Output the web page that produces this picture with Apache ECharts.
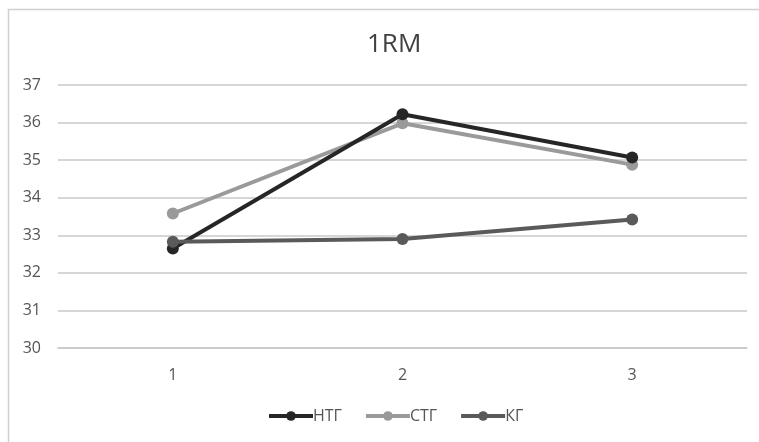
<!DOCTYPE html>
<html>
<head>
<meta charset="utf-8">
<script src="https://cdn.jsdelivr.net/npm/echarts@6/dist/echarts.min.js"></script>
<style>
html,body{margin:0;padding:0;background:#fff;}
#chart{width:759px;height:442px;}
</style>
</head>
<body>
<div id="chart"></div>
<script>
const categories = ['1', '2', '3'];
const seriesNames = ['НТГ', 'СТГ', 'КГ'];
const ntg = [32.65, 36.22, 35.07];
const stg = [33.58, 35.98, 34.88];
const kg = [32.83, 32.9, 33.42];
const yTicks = { min: 30, max: 37, interval: 1 };

const colors = ['#262626', '#9a9a9a', '#5a5a5a'];
const font = 'Open Sans, Liberation Sans, sans-serif';
const chart = echarts.init(document.getElementById('chart'));
const mk = (name, data, color, z) => ({
  name, type: 'line', data, z,
  symbol: 'circle', symbolSize: 12,
  lineStyle: { width: 4, color },
  itemStyle: { color },
  emphasis: { disabled: true }
});
chart.setOption({
  animation: false,
  backgroundColor: '#fff',
  graphic: [{
    type: 'rect', left: 6, top: 7, z: -1,
    shape: { width: 780, height: 460 },
    style: { fill: 'none', stroke: '#d0d0d0', lineWidth: 1.5 }
  }],
  title: {
    text: '1RM', left: 362, top: 27,
    textStyle: { fontFamily: font, fontSize: 26, fontWeight: 'normal', color: '#404040' }
  },
  grid: { left: 58, right: 12, top: 85, bottom: 94 },
  legend: {
    bottom: 13, left: 262,
    itemWidth: 44, itemHeight: 12, itemGap: 22,
    lineStyle: { width: 4 },
    textStyle: { fontFamily: font, fontSize: 16, color: '#555', padding: [0, 0, 0, -5] },
    data: seriesNames
  },
  xAxis: {
    type: 'category', data: categories, boundaryGap: true,
    axisLine: { lineStyle: { color: '#c8c8c8', width: 1.5 } },
    axisTick: { show: false },
    axisLabel: { fontFamily: font, fontSize: 16, color: '#555', margin: 19 }
  },
  yAxis: {
    type: 'value', min: yTicks.min, max: yTicks.max, interval: yTicks.interval,
    axisLine: { show: false }, axisTick: { show: false },
    splitLine: { lineStyle: { color: '#c8c8c8', width: 1.5 } },
    axisLabel: { fontFamily: font, fontSize: 16, color: '#555', margin: 17 }
  },
  series: [
    mk(seriesNames[0], ntg, colors[0], 3),
    mk(seriesNames[1], stg, colors[1], 2),
    mk(seriesNames[2], kg, colors[2], 4)
  ]
});
</script>
</body>
</html>
